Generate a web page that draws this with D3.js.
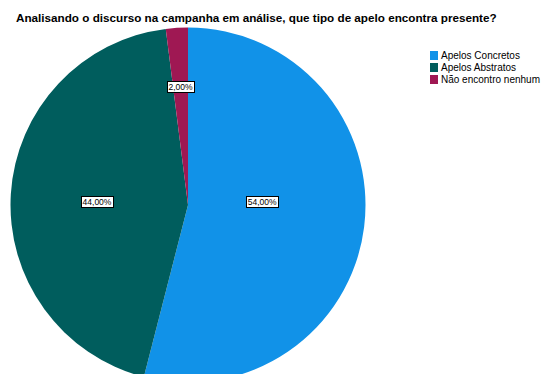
<!DOCTYPE html>
<html>
<head>
<meta charset="utf-8">
<script src="https://cdn.jsdelivr.net/npm/d3@7"></script>
<style>
  html, body { margin: 0; padding: 0; background: #fff; }
  svg { display: block; }
  text { font-family: "Liberation Sans", Arial, sans-serif; }
</style>
</head>
<body>
<svg id="chart" width="550" height="374"></svg>
<script>
// Survey answers and their shares (%)
const categories = ["Apelos Concretos", "Apelos Abstratos", "Não encontro nenhum"];
const values = [54, 44, 2];
const colors = ["#1192e8", "#005d5d", "#9f1853"];
const title = "Analisando o discurso na campanha em análise, que tipo de apelo encontra presente?";

const svg = d3.select("#chart");

svg.append("text")
  .attr("x", 16)
  .attr("y", 21.5)
  .attr("font-size", 11.7)
  .attr("font-weight", "bold")
  .attr("fill", "#000")
  .text(title);

// Pie
const cx = 188, cy = 205, R = 177.5;
const g = svg.append("g").attr("transform", `translate(${cx},${cy})`);

const pie = d3.pie().sort(null).value(d => d.value);
const data = pie(categories.map((c, i) => ({ cat: c, value: values[i], color: colors[i] })));
const arc = d3.arc().innerRadius(0).outerRadius(R);

g.selectAll("path.slice")
  .data(data)
  .join("path")
  .attr("class", "slice")
  .attr("d", arc)
  .attr("fill", d => d.data.color);

// Value labels: placed along each slice at a chosen fraction of the radius,
// with the angle pulled toward the horizontal for the two large slices.
const fmt = v => d3.format(".2f")(v).replace(".", ",") + "%";
const labelCfg = [
  { rf: 0.418, angle: Math.PI * 0.487 },
  { rf: 0.513, angle: null, dAngle: -0.028 },
  { rf: 0.668, angle: null, dAngle: 0 }
];
data.forEach((d, i) => {
  const mid = (d.startAngle + d.endAngle) / 2;
  const cfg = labelCfg[i];
  const a = cfg.angle != null ? cfg.angle : mid + cfg.dAngle;
  const r = R * cfg.rf;
  const x = Math.sin(a) * r, y = -Math.cos(a) * r;
  const lg = g.append("g").attr("transform", `translate(${x},${y})`);
  const t = lg.append("text")
    .attr("text-anchor", "middle")
    .attr("dy", "0.35em")
    .attr("font-size", 8.5)
    .attr("fill", "#000")
    .text(fmt(d.data.value));
  const bb = t.node().getBBox();
  lg.insert("rect", "text")
    .attr("x", bb.x - 1.5)
    .attr("y", -5.5)
    .attr("width", bb.width + 3)
    .attr("height", 11)
    .attr("fill", "#fff")
    .attr("stroke", "#000")
    .attr("stroke-width", 1)
    .attr("shape-rendering", "crispEdges");
});

// Legend
const legend = svg.append("g").attr("transform", "translate(430,51)");
const rowH = 12;
const items = legend.selectAll("g")
  .data(categories)
  .join("g")
  .attr("transform", (d, i) => `translate(0,${i * rowH})`);
items.append("rect")
  .attr("width", 8).attr("height", 9)
  .attr("fill", (d, i) => colors[i]);
items.append("text")
  .attr("x", 11).attr("y", 4.5)
  .attr("dy", "0.35em")
  .attr("font-size", 10)
  .attr("fill", "#000")
  .text(d => d);
</script>
</body>
</html>
